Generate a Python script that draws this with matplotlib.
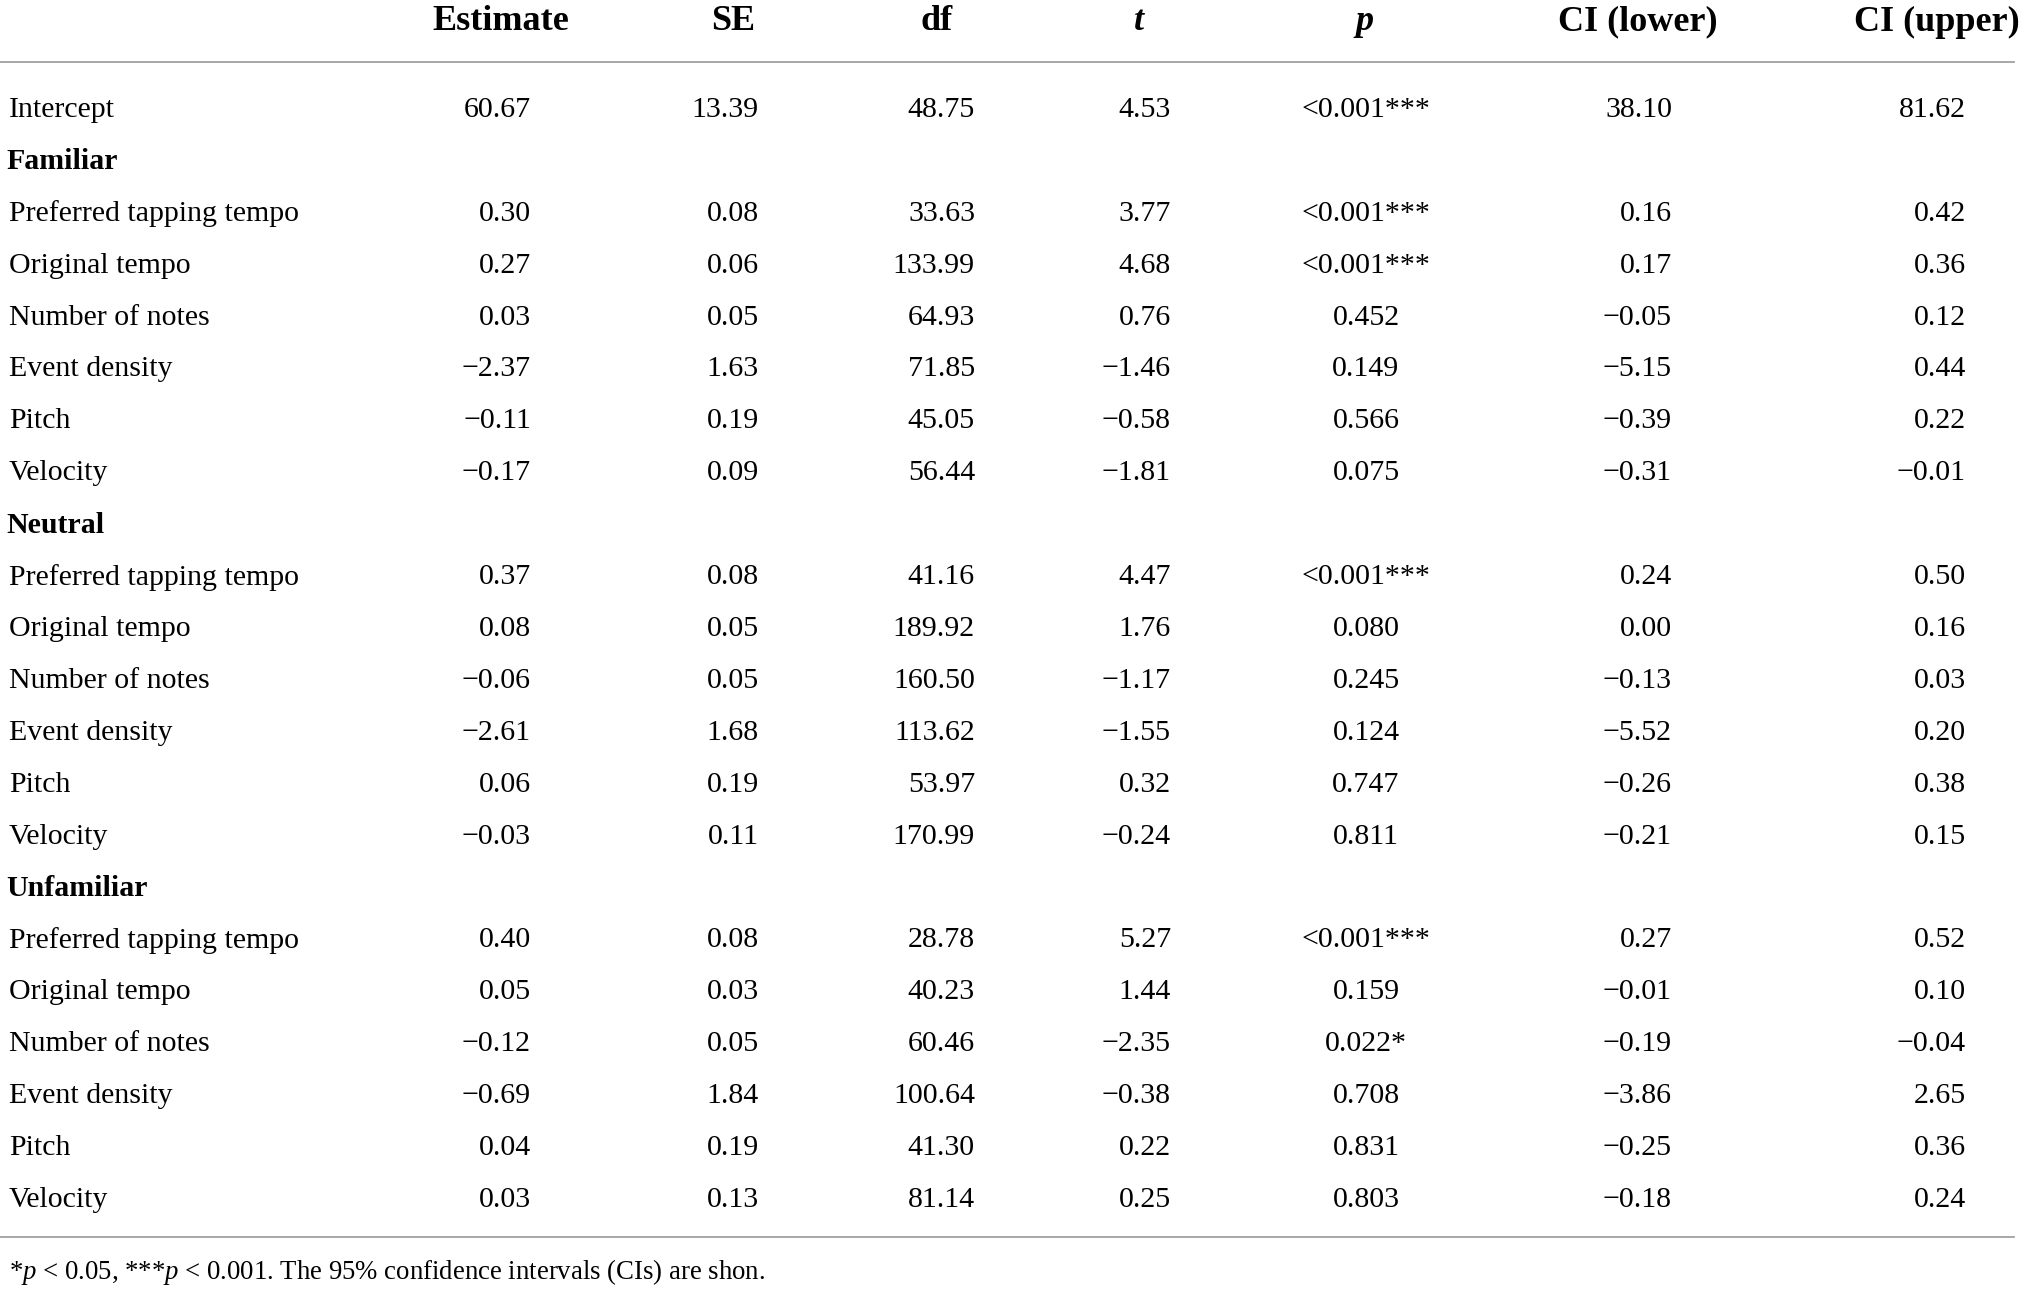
import matplotlib
matplotlib.use('Agg')
from matplotlib import pyplot as plt

plt.rcParams['font.family'] = ['Liberation Serif', 'DejaVu Serif']
plt.rcParams['mathtext.fontset'] = 'custom'
plt.rcParams['mathtext.rm'] = 'Liberation Serif'
plt.rcParams['mathtext.it'] = 'Liberation Serif:italic'
plt.rcParams['mathtext.bf'] = 'Liberation Serif:bold'

headers = ['Estimate', 'SE', 'df', 't', 'p', 'CI (lower)', 'CI (upper)']
groups = ['Familiar', 'Neutral', 'Unfamiliar']
predictors = ['Preferred tapping tempo', 'Original tempo', 'Number of notes',
              'Event density', 'Pitch', 'Velocity']

intercept = ['60.67', '13.39', '48.75', '4.53', '<0.001***', '38.10', '81.62']

familiar = [
    ['0.30', '0.08', '33.63', '3.77', '<0.001***', '0.16', '0.42'],
    ['0.27', '0.06', '133.99', '4.68', '<0.001***', '0.17', '0.36'],
    ['0.03', '0.05', '64.93', '0.76', '0.452', '−0.05', '0.12'],
    ['−2.37', '1.63', '71.85', '−1.46', '0.149', '−5.15', '0.44'],
    ['−0.11', '0.19', '45.05', '−0.58', '0.566', '−0.39', '0.22'],
    ['−0.17', '0.09', '56.44', '−1.81', '0.075', '−0.31', '−0.01'],
]
neutral = [
    ['0.37', '0.08', '41.16', '4.47', '<0.001***', '0.24', '0.50'],
    ['0.08', '0.05', '189.92', '1.76', '0.080', '0.00', '0.16'],
    ['−0.06', '0.05', '160.50', '−1.17', '0.245', '−0.13', '0.03'],
    ['−2.61', '1.68', '113.62', '−1.55', '0.124', '−5.52', '0.20'],
    ['0.06', '0.19', '53.97', '0.32', '0.747', '−0.26', '0.38'],
    ['−0.03', '0.11', '170.99', '−0.24', '0.811', '−0.21', '0.15'],
]
unfamiliar = [
    ['0.40', '0.08', '28.78', '5.27', '<0.001***', '0.27', '0.52'],
    ['0.05', '0.03', '40.23', '1.44', '0.159', '−0.01', '0.10'],
    ['−0.12', '0.05', '60.46', '−2.35', '0.022*', '−0.19', '−0.04'],
    ['−0.69', '1.84', '100.64', '−0.38', '0.708', '−3.86', '2.65'],
    ['0.04', '0.19', '41.30', '0.22', '0.831', '−0.25', '0.36'],
    ['0.03', '0.13', '81.14', '0.25', '0.803', '−0.18', '0.24'],
]
footnote = (r'*$\mathit{p}$ < 0.05, ***$\mathit{p}$ < 0.001. '
            'The 95% confidence intervals (CIs) are shon.')

# layout in pixels
W, H = 2024, 1291
col_x = [531, 759, 975, 1171, 1366, 1672, 1966]
col_ha = ['right', 'right', 'right', 'right', 'center', 'right', 'right']
head_x = [501, 733, 937, 1139, 1365, 1638, 1937]
row0 = 110
step = 51.9
fs = 21.5

fig = plt.figure(figsize=(W / 100, H / 100), dpi=100)
ax = fig.add_axes([0, 0, 1, 1])
ax.set_xlim(0, W)
ax.set_ylim(H, 0)
ax.axis('off')

for i, h in enumerate(headers):
    style = 'italic' if h in ('t', 'p') else 'normal'
    ax.text(head_x[i], 22, h, ha='center', va='center', fontsize=26,
            fontweight='bold', fontstyle=style)

ax.plot([0, 2014], [62, 62], color='#a0a0a0', lw=1.3)

rows = [('Intercept', intercept, False)]
for g, block in zip(groups, [familiar, neutral, unfamiliar]):
    rows.append((g, None, True))
    for name, vals in zip(predictors, block):
        rows.append((name, vals, False))

for r, (name, vals, bold) in enumerate(rows):
    y = row0 + r * step
    if bold:
        ax.text(6, y, name, ha='left', va='center', fontsize=fs, fontweight='bold')
        continue
    ax.text(9, y, name, ha='left', va='center', fontsize=fs)
    for i, v in enumerate(vals):
        ax.text(col_x[i], y, v, ha=col_ha[i], va='center', fontsize=fs)

ax.plot([0, 2014], [1237, 1237], color='#a0a0a0', lw=1.3)
ax.text(9, 1272, footnote, ha='left', va='center', fontsize=19.3)

plt.savefig('out.png', dpi=100)
